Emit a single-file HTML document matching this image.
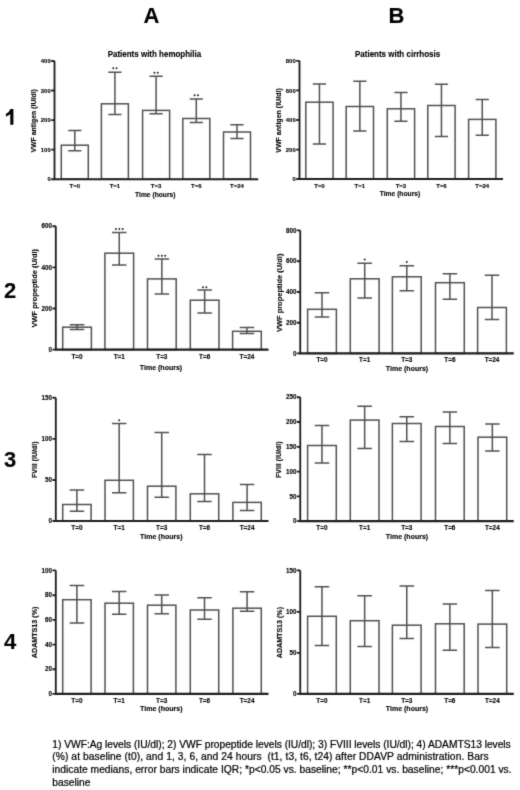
<!DOCTYPE html>
<html><head><meta charset="utf-8"><style>
html,body{margin:0;padding:0;background:#fff;}
body{width:520px;height:790px;overflow:hidden;position:relative;}
svg{position:absolute;left:0;top:0;}
text{font-family:"Liberation Sans",sans-serif;fill:#000;white-space:pre;stroke:#000;stroke-width:0.12px;}
.b{fill:#fff;stroke:#505050;stroke-width:1.5;}
.l{fill:none;stroke:#505050;stroke-width:1.5;}
.a{fill:none;stroke:#1e1e1e;stroke-width:1.85;}
.sd{fill:#222;}
.ax{fill:none;stroke:#1e1e1e;stroke-width:2.1;}
.tk{text-anchor:end;font-weight:bold;}
.xl{text-anchor:middle;font-weight:bold;}
.yl{text-anchor:middle;font-weight:bold;}
.tt{font-weight:bold;font-size:8.4px;}
.big{font-weight:bold;font-size:22px;fill:#000;}
.cp{font-size:10.25px;fill:#000;stroke:#000;stroke-width:0.22px;}
</style></head><body>
<svg width="520" height="790" viewBox="0 0 520 790">
<defs><filter id="bl" x="0" y="0" width="520" height="790" filterUnits="userSpaceOnUse" color-interpolation-filters="sRGB"><feConvolveMatrix order="3" kernelMatrix="1 6 1 6 36 6 1 6 1" divisor="64" edgeMode="duplicate"/></filter></defs>
<g filter="url(#bl)">
<rect width="520" height="790" fill="#fff"/>
<text x="143.6" y="23.2" class="big">A</text>
<text x="388.6" y="23.4" class="big">B</text>
<path d="M10.3 108.9H13.4V124.8H10.3V114.1C9.1 115.2 7.6 116 5.9 116.5V113.7C8.1 112.9 9.6 111.2 10.3 108.9Z" fill="#000"/>
<text x="4" y="298.3" class="big">2</text>
<text x="4" y="467.1" class="big">3</text>
<text x="4" y="648.9" class="big">4</text>
<rect x="61.3" y="145.2" width="27" height="34" class="b"/>
<rect x="101.4" y="103.8" width="27" height="75.4" class="b"/>
<rect x="142.6" y="110.4" width="27" height="68.8" class="b"/>
<rect x="182.8" y="118.5" width="27" height="60.7" class="b"/>
<rect x="223.5" y="132" width="27" height="47.2" class="b"/>
<path d="M74.8 130.5V150.8M68.2 130.5H81.4M68.2 150.8H81.4" class="l"/>
<path d="M114.9 72.3V114.6M108.3 72.3H121.5M108.3 114.6H121.5" class="l"/>
<path d="M156.1 76.2V113.8M149.5 76.2H162.7M149.5 113.8H162.7" class="l"/>
<path d="M196.3 99V122.4M189.7 99H202.9M189.7 122.4H202.9" class="l"/>
<path d="M237 124.7V138.5M230.4 124.7H243.6M230.4 138.5H243.6" class="l"/>
<path d="M54.5 61V179.2" class="a"/>
<path d="M53.6 179.2H258.2" class="ax"/>
<text x="50.7" y="181.32" class="tk" font-size="5.9">0</text>
<text x="50.7" y="151.72" class="tk" font-size="5.9">100</text>
<text x="50.7" y="122.22" class="tk" font-size="5.9">200</text>
<text x="50.7" y="92.62" class="tk" font-size="5.9">300</text>
<text x="50.7" y="63.12" class="tk" font-size="5.9">400</text>
<path d="M51.2 179.2H54.5M51.2 149.6H54.5M51.2 120.1H54.5M51.2 90.5H54.5M51.2 61H54.5" class="a"/>
<text x="74.8" y="187.66" class="xl" font-size="6.0">T=0</text>
<text x="114.9" y="187.66" class="xl" font-size="6.0">T=1</text>
<text x="156.1" y="187.66" class="xl" font-size="6.0">T=3</text>
<text x="196.3" y="187.66" class="xl" font-size="6.0">T=6</text>
<text x="237" y="187.66" class="xl" font-size="6.0">T=24</text>
<circle cx="113.23" cy="68.3" r="1.0" class="sd"/>
<circle cx="116.58" cy="68.3" r="1.0" class="sd"/>
<circle cx="154.42" cy="72.8" r="1.0" class="sd"/>
<circle cx="157.78" cy="72.8" r="1.0" class="sd"/>
<circle cx="194.62" cy="95.3" r="1.0" class="sd"/>
<circle cx="197.98" cy="95.3" r="1.0" class="sd"/>
<text x="155.3" y="196.71" class="xl" font-size="6.7" textLength="40.4" lengthAdjust="spacingAndGlyphs">Time (hours)</text>
<text transform="translate(36.4 120.85) rotate(-90)" class="yl" font-size="7.0" textLength="63.5" lengthAdjust="spacingAndGlyphs">VWF antigen (IU/dl)</text>
<text x="107.7" y="57.32" class="tt" textLength="93.5" lengthAdjust="spacingAndGlyphs">Patients with hemophilia</text>
<rect x="305.8" y="102.2" width="27.3" height="76.8" class="b"/>
<rect x="346.2" y="106.5" width="27.3" height="72.5" class="b"/>
<rect x="387.3" y="108.8" width="27.3" height="70.2" class="b"/>
<rect x="427.8" y="105.5" width="27.3" height="73.5" class="b"/>
<rect x="468.6" y="119.4" width="27.3" height="59.6" class="b"/>
<path d="M319.45 83.9V143.9M312.85 83.9H326.05M312.85 143.9H326.05" class="l"/>
<path d="M359.85 81.2V131M353.25 81.2H366.45M353.25 131H366.45" class="l"/>
<path d="M400.95 92.6V121.2M394.35 92.6H407.55M394.35 121.2H407.55" class="l"/>
<path d="M441.45 84.3V136.5M434.85 84.3H448.05M434.85 136.5H448.05" class="l"/>
<path d="M482.25 99.5V135.3M475.65 99.5H488.85M475.65 135.3H488.85" class="l"/>
<path d="M299.5 60.8V179" class="a"/>
<path d="M298.6 179H503" class="ax"/>
<text x="295.7" y="181.12" class="tk" font-size="5.9">0</text>
<text x="295.7" y="151.72" class="tk" font-size="5.9">200</text>
<text x="295.7" y="122.12" class="tk" font-size="5.9">400</text>
<text x="295.7" y="92.52" class="tk" font-size="5.9">600</text>
<text x="295.7" y="62.92" class="tk" font-size="5.9">800</text>
<path d="M296.2 179H299.5M296.2 149.6H299.5M296.2 120H299.5M296.2 90.4H299.5M296.2 60.8H299.5" class="a"/>
<text x="319.45" y="187.66" class="xl" font-size="6.0">T=0</text>
<text x="359.85" y="187.66" class="xl" font-size="6.0">T=1</text>
<text x="400.95" y="187.66" class="xl" font-size="6.0">T=3</text>
<text x="441.45" y="187.66" class="xl" font-size="6.0">T=6</text>
<text x="482.25" y="187.66" class="xl" font-size="6.0">T=24</text>
<text x="400" y="196.21" class="xl" font-size="6.7" textLength="40.4" lengthAdjust="spacingAndGlyphs">Time (hours)</text>
<text transform="translate(281.1 120.5) rotate(-90)" class="yl" font-size="7.0" textLength="64.5" lengthAdjust="spacingAndGlyphs">VWF antigen (IU/dl)</text>
<text x="355" y="57.32" class="tt" textLength="85.2" lengthAdjust="spacingAndGlyphs">Patients with cirrhosis</text>
<rect x="62.7" y="327.2" width="28.7" height="22.4" class="b"/>
<rect x="104.9" y="253.2" width="28.7" height="96.4" class="b"/>
<rect x="147.5" y="278.9" width="28.7" height="70.7" class="b"/>
<rect x="190.3" y="300.2" width="28.7" height="49.4" class="b"/>
<rect x="232.6" y="331.3" width="28.7" height="18.3" class="b"/>
<path d="M77.05 324.7V329.5M69.8 324.7H84.3M69.8 329.5H84.3" class="l"/>
<path d="M119.25 232.6V265M112 232.6H126.5M112 265H126.5" class="l"/>
<path d="M161.85 259V294M154.6 259H169.1M154.6 294H169.1" class="l"/>
<path d="M204.65 290V312.9M197.4 290H211.9M197.4 312.9H211.9" class="l"/>
<path d="M246.95 327.4V333.4M239.7 327.4H254.2M239.7 333.4H254.2" class="l"/>
<path d="M55.8 226.2V349.6" class="a"/>
<path d="M54.9 349.6H268.5" class="ax"/>
<text x="52" y="351.87" class="tk" font-size="6.3">0</text>
<text x="52" y="310.77" class="tk" font-size="6.3">200</text>
<text x="52" y="269.57" class="tk" font-size="6.3">400</text>
<text x="52" y="228.47" class="tk" font-size="6.3">600</text>
<path d="M52.5 349.6H55.8M52.5 308.5H55.8M52.5 267.3H55.8M52.5 226.2H55.8" class="a"/>
<text x="77.05" y="359" class="xl" font-size="6.4">T=0</text>
<text x="119.25" y="359" class="xl" font-size="6.4">T=1</text>
<text x="161.85" y="359" class="xl" font-size="6.4">T=3</text>
<text x="204.65" y="359" class="xl" font-size="6.4">T=6</text>
<text x="246.95" y="359" class="xl" font-size="6.4">T=24</text>
<circle cx="115.9" cy="229" r="1.0" class="sd"/>
<circle cx="119.25" cy="229" r="1.0" class="sd"/>
<circle cx="122.6" cy="229" r="1.0" class="sd"/>
<circle cx="158.5" cy="255.7" r="1.0" class="sd"/>
<circle cx="161.85" cy="255.7" r="1.0" class="sd"/>
<circle cx="165.2" cy="255.7" r="1.0" class="sd"/>
<circle cx="202.97" cy="287.2" r="1.0" class="sd"/>
<circle cx="206.33" cy="287.2" r="1.0" class="sd"/>
<text x="161" y="369.82" class="xl" font-size="7.0" textLength="42.4" lengthAdjust="spacingAndGlyphs">Time (hours)</text>
<text transform="translate(36.85 288.2) rotate(-90)" class="yl" font-size="7.5" textLength="78.5" lengthAdjust="spacingAndGlyphs">VWF propeptide (U/dl)</text>
<rect x="307.6" y="309.3" width="28.8" height="44.1" class="b"/>
<rect x="350.3" y="278.8" width="28.8" height="74.6" class="b"/>
<rect x="392.4" y="276.8" width="28.8" height="76.6" class="b"/>
<rect x="435.5" y="282.7" width="28.8" height="70.7" class="b"/>
<rect x="477.6" y="307.5" width="28.8" height="45.9" class="b"/>
<path d="M322 292.7V317M314.75 292.7H329.25M314.75 317H329.25" class="l"/>
<path d="M364.7 263.2V298M357.45 263.2H371.95M357.45 298H371.95" class="l"/>
<path d="M406.8 265.8V290.8M399.55 265.8H414.05M399.55 290.8H414.05" class="l"/>
<path d="M449.9 273.8V299.2M442.65 273.8H457.15M442.65 299.2H457.15" class="l"/>
<path d="M492 275.2V319.6M484.75 275.2H499.25M484.75 319.6H499.25" class="l"/>
<path d="M300.25 230.4V353.4" class="a"/>
<path d="M299.35 353.4H513.8" class="ax"/>
<text x="296.45" y="355.67" class="tk" font-size="6.3">0</text>
<text x="296.45" y="324.97" class="tk" font-size="6.3">200</text>
<text x="296.45" y="294.27" class="tk" font-size="6.3">400</text>
<text x="296.45" y="263.47" class="tk" font-size="6.3">600</text>
<text x="296.45" y="232.67" class="tk" font-size="6.3">800</text>
<path d="M296.95 353.4H300.25M296.95 322.7H300.25M296.95 292H300.25M296.95 261.2H300.25M296.95 230.4H300.25" class="a"/>
<text x="322" y="362.3" class="xl" font-size="6.4">T=0</text>
<text x="364.7" y="362.3" class="xl" font-size="6.4">T=1</text>
<text x="406.8" y="362.3" class="xl" font-size="6.4">T=3</text>
<text x="449.9" y="362.3" class="xl" font-size="6.4">T=6</text>
<text x="492" y="362.3" class="xl" font-size="6.4">T=24</text>
<circle cx="364.7" cy="259.5" r="1.0" class="sd"/>
<circle cx="406.8" cy="262" r="1.0" class="sd"/>
<text x="407" y="371.12" class="xl" font-size="7.0" textLength="42.4" lengthAdjust="spacingAndGlyphs">Time (hours)</text>
<text transform="translate(281.95 292.8) rotate(-90)" class="yl" font-size="7.5" textLength="78.5" lengthAdjust="spacingAndGlyphs">VWF propeptide (U/dl)</text>
<rect x="62.7" y="504.5" width="28.4" height="16.5" class="b"/>
<rect x="105" y="480.3" width="28.4" height="40.7" class="b"/>
<rect x="147.5" y="486.2" width="28.4" height="34.8" class="b"/>
<rect x="190.3" y="493.8" width="28.4" height="27.2" class="b"/>
<rect x="232.9" y="502.4" width="28.4" height="18.6" class="b"/>
<path d="M76.9 490V511.2M69.65 490H84.15M69.65 511.2H84.15" class="l"/>
<path d="M119.2 423.5V492.8M111.95 423.5H126.45M111.95 492.8H126.45" class="l"/>
<path d="M161.7 432.4V497.3M154.45 432.4H168.95M154.45 497.3H168.95" class="l"/>
<path d="M204.5 454.5V501.6M197.25 454.5H211.75M197.25 501.6H211.75" class="l"/>
<path d="M247.1 484.4V510.5M239.85 484.4H254.35M239.85 510.5H254.35" class="l"/>
<path d="M55.8 397.7V521" class="a"/>
<path d="M54.9 521H268.5" class="ax"/>
<text x="52" y="523.27" class="tk" font-size="6.3">0</text>
<text x="52" y="482.27" class="tk" font-size="6.3">50</text>
<text x="52" y="441.17" class="tk" font-size="6.3">100</text>
<text x="52" y="399.97" class="tk" font-size="6.3">150</text>
<path d="M52.5 521H55.8M52.5 480H55.8M52.5 438.9H55.8M52.5 397.7H55.8" class="a"/>
<text x="76.9" y="530" class="xl" font-size="6.4">T=0</text>
<text x="119.2" y="530" class="xl" font-size="6.4">T=1</text>
<text x="161.7" y="530" class="xl" font-size="6.4">T=3</text>
<text x="204.5" y="530" class="xl" font-size="6.4">T=6</text>
<text x="247.1" y="530" class="xl" font-size="6.4">T=24</text>
<circle cx="119.2" cy="420.3" r="1.0" class="sd"/>
<text x="161.3" y="538.82" class="xl" font-size="7.0" textLength="42.4" lengthAdjust="spacingAndGlyphs">Time (hours)</text>
<text transform="translate(36.73 459.7) rotate(-90)" class="yl" font-size="7.1" textLength="36.5" lengthAdjust="spacingAndGlyphs">FVIII (IU/dl)</text>
<rect x="307.6" y="445.5" width="28.7" height="75.6" class="b"/>
<rect x="350.3" y="420.1" width="28.7" height="101" class="b"/>
<rect x="392.4" y="423.5" width="28.7" height="97.6" class="b"/>
<rect x="435.5" y="426.5" width="28.7" height="94.6" class="b"/>
<rect x="478" y="437.2" width="28.7" height="83.9" class="b"/>
<path d="M321.95 425.4V463M314.7 425.4H329.2M314.7 463H329.2" class="l"/>
<path d="M364.65 406.2V448.5M357.4 406.2H371.9M357.4 448.5H371.9" class="l"/>
<path d="M406.75 416.8V441.5M399.5 416.8H414M399.5 441.5H414" class="l"/>
<path d="M449.85 411.9V443.4M442.6 411.9H457.1M442.6 443.4H457.1" class="l"/>
<path d="M492.35 424V451M485.1 424H499.6M485.1 451H499.6" class="l"/>
<path d="M300.25 397.2V521.1" class="a"/>
<path d="M299.35 521.1H513.8" class="ax"/>
<text x="296.45" y="523.37" class="tk" font-size="6.3">0</text>
<text x="296.45" y="498.67" class="tk" font-size="6.3">50</text>
<text x="296.45" y="473.87" class="tk" font-size="6.3">100</text>
<text x="296.45" y="449.07" class="tk" font-size="6.3">150</text>
<text x="296.45" y="424.27" class="tk" font-size="6.3">200</text>
<text x="296.45" y="399.47" class="tk" font-size="6.3">250</text>
<path d="M296.95 521.1H300.25M296.95 496.4H300.25M296.95 471.6H300.25M296.95 446.8H300.25M296.95 422H300.25M296.95 397.2H300.25" class="a"/>
<text x="321.95" y="530" class="xl" font-size="6.4">T=0</text>
<text x="364.65" y="530" class="xl" font-size="6.4">T=1</text>
<text x="406.75" y="530" class="xl" font-size="6.4">T=3</text>
<text x="449.85" y="530" class="xl" font-size="6.4">T=6</text>
<text x="492.35" y="530" class="xl" font-size="6.4">T=24</text>
<text x="407" y="538.82" class="xl" font-size="7.0" textLength="42.4" lengthAdjust="spacingAndGlyphs">Time (hours)</text>
<text transform="translate(281.33 459.7) rotate(-90)" class="yl" font-size="7.1" textLength="36.5" lengthAdjust="spacingAndGlyphs">FVIII (IU/dl)</text>
<rect x="62.7" y="599.7" width="28.4" height="94.2" class="b"/>
<rect x="105" y="603.2" width="28.4" height="90.7" class="b"/>
<rect x="147.5" y="605.2" width="28.4" height="88.7" class="b"/>
<rect x="190.3" y="610" width="28.4" height="83.9" class="b"/>
<rect x="232.9" y="608.2" width="28.4" height="85.7" class="b"/>
<path d="M76.9 585.4V623M69.65 585.4H84.15M69.65 623H84.15" class="l"/>
<path d="M119.2 591.6V614.2M111.95 591.6H126.45M111.95 614.2H126.45" class="l"/>
<path d="M161.7 595V613.8M154.45 595H168.95M154.45 613.8H168.95" class="l"/>
<path d="M204.5 597.7V619.2M197.25 597.7H211.75M197.25 619.2H211.75" class="l"/>
<path d="M247.1 591.8V611.2M239.85 591.8H254.35M239.85 611.2H254.35" class="l"/>
<path d="M55.8 570.4V693.9" class="a"/>
<path d="M54.9 693.9H268.5" class="ax"/>
<text x="52" y="696.17" class="tk" font-size="6.3">0</text>
<text x="52" y="671.47" class="tk" font-size="6.3">20</text>
<text x="52" y="646.87" class="tk" font-size="6.3">40</text>
<text x="52" y="622.17" class="tk" font-size="6.3">60</text>
<text x="52" y="597.47" class="tk" font-size="6.3">80</text>
<text x="52" y="572.67" class="tk" font-size="6.3">100</text>
<path d="M52.5 693.9H55.8M52.5 669.2H55.8M52.5 644.6H55.8M52.5 619.9H55.8M52.5 595.2H55.8M52.5 570.4H55.8" class="a"/>
<text x="76.9" y="703.1" class="xl" font-size="6.4">T=0</text>
<text x="119.2" y="703.1" class="xl" font-size="6.4">T=1</text>
<text x="161.7" y="703.1" class="xl" font-size="6.4">T=3</text>
<text x="204.5" y="703.1" class="xl" font-size="6.4">T=6</text>
<text x="247.1" y="703.1" class="xl" font-size="6.4">T=24</text>
<text x="161.3" y="711.42" class="xl" font-size="7.0" textLength="42.4" lengthAdjust="spacingAndGlyphs">Time (hours)</text>
<text transform="translate(36.76 632.4) rotate(-90)" class="yl" font-size="7.2" textLength="51.5" lengthAdjust="spacingAndGlyphs">ADAMTS13 (%)</text>
<rect x="307.6" y="616.3" width="28.7" height="77.6" class="b"/>
<rect x="350.3" y="620.7" width="28.7" height="73.2" class="b"/>
<rect x="392.4" y="625.2" width="28.7" height="68.7" class="b"/>
<rect x="435.5" y="623.8" width="28.7" height="70.1" class="b"/>
<rect x="478" y="624.1" width="28.7" height="69.8" class="b"/>
<path d="M321.95 586.8V645.4M314.7 586.8H329.2M314.7 645.4H329.2" class="l"/>
<path d="M364.65 595.8V646.5M357.4 595.8H371.9M357.4 646.5H371.9" class="l"/>
<path d="M406.75 586.1V638.6M399.5 586.1H414M399.5 638.6H414" class="l"/>
<path d="M449.85 603.9V650.2M442.6 603.9H457.1M442.6 650.2H457.1" class="l"/>
<path d="M492.35 590.4V647.5M485.1 590.4H499.6M485.1 647.5H499.6" class="l"/>
<path d="M300.25 570.4V693.9" class="a"/>
<path d="M299.35 693.9H513.8" class="ax"/>
<text x="296.45" y="696.17" class="tk" font-size="6.3">0</text>
<text x="296.45" y="655.17" class="tk" font-size="6.3">50</text>
<text x="296.45" y="614.17" class="tk" font-size="6.3">100</text>
<text x="296.45" y="572.67" class="tk" font-size="6.3">150</text>
<path d="M296.95 693.9H300.25M296.95 652.9H300.25M296.95 611.9H300.25M296.95 570.4H300.25" class="a"/>
<text x="321.95" y="703.1" class="xl" font-size="6.4">T=0</text>
<text x="364.65" y="703.1" class="xl" font-size="6.4">T=1</text>
<text x="406.75" y="703.1" class="xl" font-size="6.4">T=3</text>
<text x="449.85" y="703.1" class="xl" font-size="6.4">T=6</text>
<text x="492.35" y="703.1" class="xl" font-size="6.4">T=24</text>
<text x="407" y="711.42" class="xl" font-size="7.0" textLength="42.4" lengthAdjust="spacingAndGlyphs">Time (hours)</text>
<text transform="translate(281.86 632.6) rotate(-90)" class="yl" font-size="7.2" textLength="51.2" lengthAdjust="spacingAndGlyphs">ADAMTS13 (%)</text>
<text x="52.3" y="747.7" class="cp" textLength="458.4" lengthAdjust="spacing">1) VWF:Ag levels (IU/dl); 2) VWF propeptide levels (IU/dl); 3) FVIII levels (IU/dl); 4) ADAMTS13 levels</text>
<text x="52.3" y="760.4" class="cp" textLength="436.2" lengthAdjust="spacing">(%) at baseline (t0), and 1, 3, 6, and 24 hours  (t1, t3, t6, t24) after DDAVP administration. Bars</text>
<text x="52.3" y="773.1" class="cp" textLength="459.3" lengthAdjust="spacing">indicate medians, error bars indicate IQR; *p&lt;0.05 vs. baseline; **p&lt;0.01 vs. baseline; ***p&lt;0.001 vs.</text>
<text x="52.3" y="785.8" class="cp">baseline</text>
</g>
</svg>
</body></html>
